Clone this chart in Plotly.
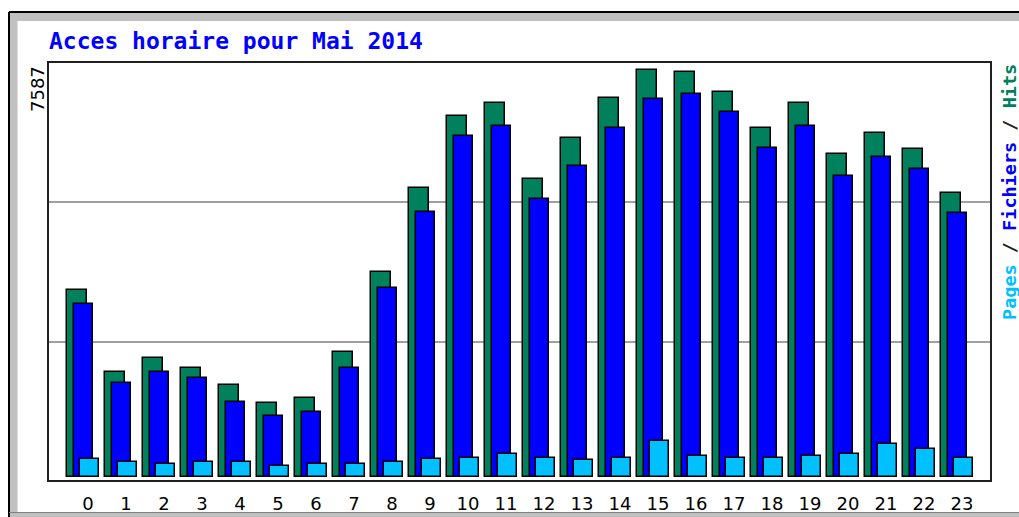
import plotly.graph_objects as go

# ---- data ----
hours = list(range(24))
hour_labels = [str(h) for h in hours]
hits = [3486, 1963, 2224, 2037, 1709, 1374, 1478, 2336, 3827, 5393, 6729, 6966,
        5549, 6325, 7071, 7587, 7555, 7182, 6511, 6966, 6021, 6407, 6109, 5288]
files = [3225, 1747, 1963, 1851, 1404, 1137, 1217, 2037, 3529, 4945, 6357, 6549,
         5177, 5803, 6511, 7041, 7145, 6810, 6139, 6549, 5617, 5960, 5736, 4916]
pages = [330, 285, 242, 285, 285, 205, 242, 242, 285, 330, 360, 429,
         360, 317, 360, 671, 397, 360, 360, 397, 429, 615, 516, 360]
title_text = "Acces horaire pour Mai 2014"
grid_values = [2522, 5132]

# ---- geometry / style ----
W, H = 1019, 517
L, R, T, B = 48, 991, 62, 481
ymax = max(hits)
k = ymax / 407.0            # value per pixel
y_range = [-(B - 477) * k, (477 - T) * k]
x_range = [(L - 88) / 38.0, (R - 88) / 38.0]

C_HITS = "#00805c"
C_FILES = "#0000ff"
C_PAGES = "#00c0ff"


def px(xp):
    return (xp - L) / (R - L)


def py(yp):
    return (B - yp) / (B - T)


fig = go.Figure()
bw = 0.503
for vals, col, off, name in [(hits, C_HITS, -0.541, "Hits"),
                             (files, C_FILES, -0.367, "Fichiers"),
                             (pages, C_PAGES, -0.209, "Pages")]:
    fig.add_trace(go.Bar(x=hours, y=vals, width=bw, offset=off, name=name,
                         marker=dict(color=col, line=dict(color="#000000", width=1.5)),
                         hoverinfo="x+y"))

shapes = [
    # outer gray frame bands
    dict(type="rect", xref="paper", yref="paper", x0=px(9), x1=px(W + 5), y0=py(21), y1=py(12),
         fillcolor="#c0c0c0", line=dict(width=0), layer="below"),
    dict(type="rect", xref="paper", yref="paper", x0=px(9), x1=px(17.5), y0=py(H + 5), y1=py(12),
         fillcolor="#c0c0c0", line=dict(width=0), layer="below"),
    dict(type="rect", xref="paper", yref="paper", x0=px(9), x1=px(W + 5), y0=py(H + 5), y1=py(512.5),
         fillcolor="#c0c0c0", line=dict(width=0), layer="below"),
    dict(type="line", xref="paper", yref="paper", x0=px(9), x1=px(W + 5), y0=py(12), y1=py(12),
         line=dict(color="#000000", width=2)),
    dict(type="line", xref="paper", yref="paper", x0=px(9), x1=px(9), y0=py(12), y1=py(H + 5),
         line=dict(color="#000000", width=2)),
    dict(type="line", xref="paper", yref="paper", x0=px(9), x1=px(W + 5), y0=py(512.5), y1=py(512.5),
         line=dict(color="#808080", width=1)),
    # plot frame
    dict(type="rect", xref="paper", yref="paper", x0=0, x1=1, y0=0, y1=1,
         line=dict(color="#202020", width=2)),
]

annotations = [
    dict(text="<b>" + title_text + "</b>", xref="paper", yref="paper", x=px(47), y=py(41),
         xanchor="left", yanchor="middle", showarrow=False,
         font=dict(family="DejaVu Sans Mono", size=23, color="#0000ff")),
    dict(text=str(ymax), xref="paper", yref="paper", x=px(37), y=py(89), textangle=-90,
         xanchor="center", yanchor="middle", showarrow=False,
         font=dict(family="DejaVu Sans", size=18, color="#000000")),
    dict(text=("<b><span style='color:%s'>Pages</span> / <span style='color:%s'>Fichiers</span>"
               " / <span style='color:%s'>Hits</span></b>") % (C_PAGES, C_FILES, C_HITS),
         xref="paper", yref="paper", x=px(1009), y=py(192), textangle=-90,
         xanchor="center", yanchor="middle", showarrow=False,
         font=dict(family="DejaVu Sans Mono", size=18.5, color="#202020")),
]

fig.update_layout(
    width=W, height=H,
    margin=dict(l=L, r=W - R, t=T, b=H - B, pad=0),
    paper_bgcolor="#ffffff", plot_bgcolor="#ffffff",
    barmode="overlay", showlegend=False, bargap=0,
    shapes=shapes, annotations=annotations,
    xaxis=dict(range=x_range, tickmode="array", tickvals=hours, ticktext=hour_labels,
               showgrid=False, zeroline=False, showline=False, ticks="",
               tickfont=dict(family="DejaVu Sans", size=18, color="#000000"),
               ticklabelstandoff=10, fixedrange=True, automargin=False),
    yaxis=dict(range=y_range, tickmode="array", tickvals=grid_values, showticklabels=False,
               showgrid=True, gridcolor="#a0a0a0", gridwidth=2, zeroline=False,
               showline=False, ticks="", fixedrange=True, automargin=False),
)

fig.write_html("out.html", include_plotlyjs=True, full_html=True,
               config={"displayModeBar": False},
               post_script="document.body.style.margin='0';document.body.style.overflow='hidden';")
